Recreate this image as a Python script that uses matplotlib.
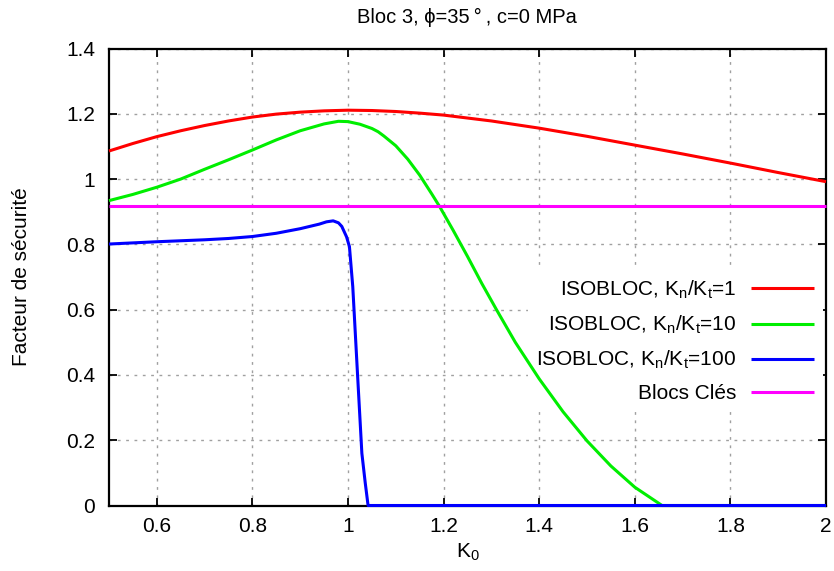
import matplotlib
matplotlib.use("Agg")
import matplotlib.pyplot as plt
from matplotlib.ticker import FuncFormatter, FixedLocator

plt.rcParams['font.family'] = ['Liberation Sans', 'DejaVu Sans']
plt.rcParams['mathtext.fontset'] = 'custom'
plt.rcParams['mathtext.rm'] = 'Liberation Sans'
plt.rcParams['mathtext.it'] = 'Liberation Sans'
plt.rcParams['mathtext.default'] = 'regular'

# ---- data ----
k0_red = [0.5, 0.55, 0.6, 0.65, 0.7, 0.75, 0.8, 0.85, 0.9, 0.95, 1.0, 1.05, 1.1, 1.15, 1.2,
          1.3, 1.4, 1.5, 1.6, 1.7, 1.8, 1.9, 2.0]
fs_red = [1.086, 1.109, 1.130, 1.148, 1.164, 1.178, 1.190, 1.199, 1.205, 1.209, 1.211, 1.210,
          1.207, 1.202, 1.196, 1.178, 1.156, 1.131, 1.104, 1.077, 1.049, 1.020, 0.992]

k0_green = [0.5, 0.55, 0.6, 0.65, 0.7, 0.75, 0.8, 0.85, 0.9, 0.95, 0.98, 1.0, 1.025, 1.05, 1.063,
            1.075, 1.1, 1.125, 1.15, 1.175, 1.192, 1.22, 1.25, 1.28, 1.311, 1.35, 1.4, 1.45,
            1.5, 1.55, 1.6, 1.657, 2.0]
fs_green = [0.934, 0.953, 0.975, 1.000, 1.030, 1.059, 1.089, 1.120, 1.148, 1.169, 1.177, 1.176,
            1.168, 1.155, 1.145, 1.132, 1.102, 1.061, 1.012, 0.955, 0.915, 0.843, 0.763, 0.680,
            0.599, 0.500, 0.388, 0.287, 0.198, 0.121, 0.056, 0.0, 0.0]

k0_blue = [0.5, 0.6, 0.7, 0.75, 0.8, 0.85, 0.9, 0.94, 0.955, 0.969, 0.98, 0.987, 0.997, 1.003,
           1.01, 1.02, 1.029, 1.036, 1.042, 2.0]
fs_blue = [0.801, 0.808, 0.814, 0.818, 0.824, 0.834, 0.848, 0.862, 0.869, 0.872, 0.866, 0.855,
           0.823, 0.793, 0.670, 0.400, 0.160, 0.070, 0.0, 0.0]

k0_cles = [0.5, 2.0]
fs_cles = [0.917, 0.917]

labels = [r'ISOBLOC, $K_n/K_t$=1', r'ISOBLOC, $K_n/K_t$=10',
          r'ISOBLOC, $K_n/K_t$=100', 'Blocs Clés']
colors = ['#ff0000', '#00ee00', '#0000ff', '#ff00ff']

xticks = [0.6, 0.8, 1.0, 1.2, 1.4, 1.6, 1.8, 2.0]
yticks = [0, 0.2, 0.4, 0.6, 0.8, 1.0, 1.2, 1.4]

# ---- figure ----
fig = plt.figure(figsize=(8.34, 5.71), dpi=100)
W, H = 834, 571
L, R, T, B = 109, 826, 48.5, 505.5
ax = fig.add_axes([L / W, 1 - B / H, (R - L) / W, (B - T) / H])

series = [(k0_red, fs_red), (k0_green, fs_green), (k0_blue, fs_blue), (k0_cles, fs_cles)]
for (x, y), c, lab in zip(series, colors, labels):
    ax.plot(x, y, color=c, lw=2.2, label=lab, clip_on=False, zorder=3,
            solid_joinstyle='round', solid_capstyle='butt')

ax.set_xlim(0.5, 2.0)
ax.set_ylim(0, 1.4)
ax.xaxis.set_major_locator(FixedLocator(xticks))
ax.yaxis.set_major_locator(FixedLocator(yticks))
fmt = FuncFormatter(lambda v, p: '%g' % round(v, 3))
ax.xaxis.set_major_formatter(fmt)
ax.yaxis.set_major_formatter(fmt)

ax.set_axisbelow(True)
ax.grid(True, color='#a0a0a0', lw=1.0, linestyle=(0, (2, 4)))
ax.tick_params(direction='in', length=6, width=1.3, top=True, right=True,
               labelsize=15, colors='black')
ax.tick_params(axis='x', pad=8)
ax.tick_params(axis='y', pad=10)
for s in ax.spines.values():
    s.set_linewidth(1.6)
    s.set_zorder(2.5)

ax.set_xlabel(r'$K_0$', fontsize=15)
ax.xaxis.set_label_coords(0.5, -0.079)
ax.set_ylabel('Facteur de sécurité', fontsize=15)
ax.yaxis.set_label_coords(-0.109, 0.5)
fig.text(467 / W, 1 - 17 / H, 'Bloc 3, ϕ=35\u2009°\u2009, c=0 MPa', ha='center', va='center',
         fontsize=14.5)

leg = ax.legend(loc='center right', bbox_to_anchor=(1.01, 0.36), markerfirst=False,
                fontsize=15, handlelength=3.05, handletextpad=0.7, labelspacing=0.62,
                frameon=True, facecolor='white', edgecolor='none', framealpha=1.0,
                borderpad=0.4, fancybox=False)
leg.set_zorder(1.5)

fig.savefig('out.png', dpi=100)
